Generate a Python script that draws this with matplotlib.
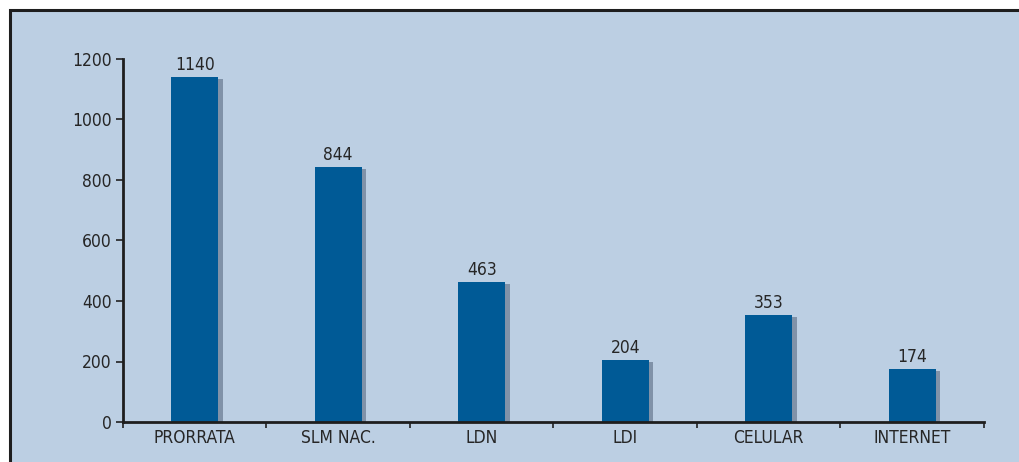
import matplotlib
matplotlib.use("Agg")
import matplotlib.pyplot as plt
from matplotlib.patches import Rectangle
import matplotlib.patheffects as pe
from matplotlib import font_manager as fm

categories = ["PRORRATA", "SLM NAC.", "LDN", "LDI", "CELULAR", "INTERNET"]
values = [1140, 844, 463, 204, 353, 174]
yticks = [0, 200, 400, 600, 800, 1000, 1200]

names = {f.name for f in fm.fontManager.ttflist}
cond = [f for f in fm.fontManager.ttflist if f.name == 'DejaVu Sans' and f.stretch == 'condensed' and f.weight in (400, 'normal') and f.style == 'normal']
if 'Liberation Sans Narrow' in names:
    FP = dict(family=['Liberation Sans Narrow', 'DejaVu Sans'], size=12.5)
elif cond:
    FP = dict(fname=cond[0].fname, size=12.5)
else:
    FP = dict(family=['DejaVu Sans'], stretch='condensed', size=12)
fp = fm.FontProperties(**FP)

BG = '#bccfe3'
BAR = '#005a96'
TXT = '#262626'

fig = plt.figure(figsize=(10.2, 4.62), dpi=100)
fig.patch.set_facecolor('white')
frame = Rectangle((10.5 / 1020, -0.1), 1.2, (462 - 10.5) / 462 + 0.1,
                  transform=fig.transFigure, facecolor=BG, edgecolor='#1e1e1e',
                  linewidth=2.2, zorder=-5)
fig.patches.append(frame)

ax = fig.add_axes([123 / 1020, (462 - 422) / 462, (984 - 123) / 1020, (422 - 59) / 462])
ax.set_facecolor('none')
ax.set_zorder(2)

xpos = [i + 0.5 for i in range(len(categories))]
bars = ax.bar(xpos, values, width=0.33, color=BAR, zorder=3)
for b in bars:
    b.set_path_effects([pe.SimplePatchShadow(offset=(3, -1.5), shadow_rgbFace='#7a8ca2', alpha=0.9),
                        pe.Normal()])

for x, v in zip(xpos, values):
    ax.text(x, v + 10, str(v), ha='center', va='bottom', fontproperties=fp, color=TXT)

ax.set_xlim(0, len(categories))
ax.set_ylim(0, 1200)
ax.set_yticks(yticks)
ax.set_yticklabels([str(t) for t in yticks], fontproperties=fp, color=TXT)
ax.set_xticks(xpos)
ax.set_xticklabels(categories, fontproperties=fp, color=TXT)
ax.tick_params(axis='x', length=0, pad=5)
ax.set_xticks(range(len(categories) + 1), minor=True)
ax.tick_params(axis='x', which='minor', length=4, width=1.2, color='#222222', direction='out')
ax.tick_params(axis='y', length=5, width=1.2, color='#222222', pad=3)

for s in ['top', 'right']:
    ax.spines[s].set_visible(False)
for s in ['left', 'bottom']:
    ax.spines[s].set_linewidth(2)
    ax.spines[s].set_color('#1e1e1e')
    ax.spines[s].set_zorder(5)

fig.savefig('out.png', dpi=100, facecolor='white')
